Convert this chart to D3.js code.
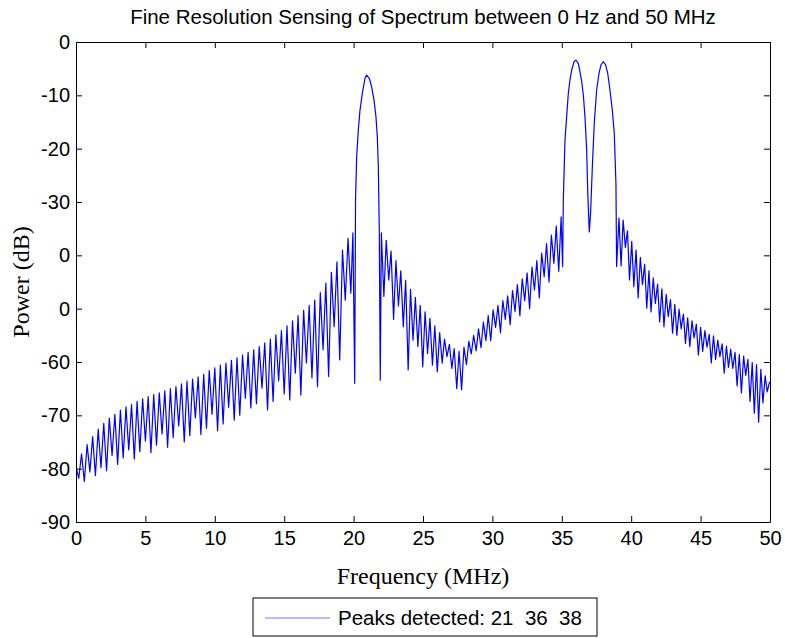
<html>
<head>
  <style>
    body{margin:0;background:#fff;}
    text{font-family:"Liberation Sans",Arial,Helvetica,sans-serif;}
    .serif{font-family:"Liberation Serif","Times New Roman",serif;font-size:24px;}
    .axis text{font-size:20px;fill:#000;}
    .axis path, .axis line{stroke:#000;stroke-width:1;}
  </style>
  <script src="https://d3js.org/d3.v7.min.js"></script>
</head>
<body>
  <svg></svg>
  <script type="text/javascript">
    // spectrum, [MHz, dB]
    var lowBand = [[0.0,-79.6],[0.2,-81.8],[0.4,-77.2],[0.6,-82.4],[0.8,-75.5],[1.0,-80.6],[1.2,-74.0],[1.4,-81.3],
      [1.6,-72.6],[1.8,-79.8],[2.0,-71.5],[2.2,-80.4],[2.4,-70.5],[2.6,-77.5],[2.8,-69.8],[3.0,-79.2],[3.2,-69.0],
      [3.4,-78.0],[3.6,-68.4],[3.8,-76.5],[4.0,-68.0],[4.2,-78.2],[4.4,-67.4],[4.6,-76.8],[4.8,-66.9],[5.0,-74.8],
      [5.2,-66.5],[5.4,-77.0],[5.6,-66.1],[5.8,-75.6],[6.0,-65.8],[6.2,-73.5],[6.4,-65.4],[6.6,-76.0],[6.8,-65.0],
      [7.0,-74.2],[7.2,-64.6],[7.4,-72.0],[7.6,-64.1],[7.8,-75.0],[8.0,-63.6],[8.2,-73.8],[8.4,-63.2],[8.6,-70.5],
      [8.8,-62.8],[9.0,-73.6],[9.2,-62.3],[9.4,-72.4],[9.6,-61.6],[9.8,-69.8],[10.0,-61.1],[10.2,-72.9],[10.4,-60.6],
      [10.6,-71.6],[10.8,-60.2],[11.0,-68.5],[11.2,-59.7],[11.4,-70.9],[11.6,-59.2],[11.8,-70.0],[12.0,-58.7],
      [12.2,-66.8],[12.4,-58.2],[12.6,-68.6],[12.8,-57.7],[13.0,-67.8],[13.2,-57.1],[13.4,-64.9],[13.6,-56.4],
      [13.8,-69.0],[14.0,-55.7],[14.2,-67.4],[14.4,-54.9],[14.6,-63.5],[14.8,-54.1],[15.0,-66.0],[15.2,-53.2],
      [15.4,-67.1],[15.6,-52.3],[15.8,-62.1],[16.0,-51.3],[16.2,-66.2],[16.4,-50.3],[16.6,-60.2],[16.8,-49.4],
      [17.0,-63.0],[17.2,-48.4],[17.4,-64.6],[17.6,-47.0],[17.8,-57.7],[18.0,-45.2],[18.2,-62.7],[18.4,-43.2],
      [18.6,-53.4],[18.8,-41.2],[19.0,-59.6],[19.2,-39.0],[19.4,-48.4],[19.6,-36.8],[19.8,-47.1],[19.95,-35.8],
      [20.08,-64.0]]
    var peak21 = [[20.14,-29.6],[20.22,-21.5],[20.34,-16.5],[20.46,-12.8],[20.63,-9.6],[20.82,-6.8],[20.94,-6.2],
      [21.13,-6.8],[21.30,-8.4],[21.47,-10.9],[21.61,-14.0],[21.71,-17.8],[21.78,-23.4],[21.85,-35.2],[21.92,-63.4]]
    var midBand = [[22.00,-35.8],[22.18,-47.7],[22.35,-37.2],[22.53,-44.6],[22.70,-39.2],[22.88,-52.0],[23.05,-41.0],
      [23.23,-49.5],[23.40,-42.9],[23.58,-53.4],[23.75,-44.7],[23.93,-61.5],[24.10,-46.4],[24.28,-55.9],[24.45,-47.9],
      [24.63,-57.1],[24.80,-49.4],[24.98,-60.9],[25.15,-50.6],[25.33,-58.4],[25.50,-51.8],[25.68,-60.6],[25.85,-53.2],
      [26.03,-61.8],[26.20,-54.5],[26.38,-60.2],[26.55,-55.7],[26.73,-59.0],[26.90,-56.7],[27.08,-61.2],[27.25,-57.5],
      [27.43,-65.0],[27.60,-58.0],[27.78,-65.2],[27.95,-57.2],[28.13,-60.5],[28.30,-56.1],[28.48,-58.5],[28.65,-55.0],
      [28.83,-57.9],[29.00,-53.8],[29.18,-57.3],[29.35,-52.5],[29.53,-56.0],[29.70,-51.3],[29.88,-56.0],[30.05,-50.2],
      [30.23,-53.5],[30.40,-49.4],[30.58,-54.5],[30.75,-48.5],[30.93,-52.0],[31.10,-47.6],[31.28,-53.0],[31.45,-46.6],
      [31.63,-50.5],[31.80,-45.5],[31.98,-51.3],[32.15,-44.4],[32.33,-48.5],[32.50,-43.3],[32.68,-50.0],[32.85,-42.2],
      [33.03,-46.5],[33.20,-41.0],[33.38,-48.0],[33.55,-39.6],[33.73,-44.0],[33.90,-37.8],[34.08,-45.0],[34.25,-36.2],
      [34.43,-41.5],[34.60,-34.5],[34.78,-43.0],[34.95,-32.8],[35.06,-42.1]]
    var peak36_38 = [[35.11,-29.6],[35.23,-18.4],[35.35,-14.0],[35.47,-9.6],[35.59,-7.1],[35.71,-5.3],[35.88,-3.7],
      [36.02,-3.4],[36.19,-4.0],[36.31,-5.6],[36.43,-7.4],[36.55,-9.9],[36.67,-14.0],[36.79,-20.2],[36.87,-28.3],
      [36.98,-35.6],[37.08,-31.8],[37.20,-23.4],[37.34,-15.2],[37.51,-9.0],[37.68,-5.9],[37.82,-4.3],[37.99,-3.7],
      [38.16,-4.3],[38.31,-5.9],[38.47,-9.0],[38.64,-12.8],[38.78,-17.1],[38.90,-26.5],[38.95,-42.1]]
    var highBand = [[39.12,-33.0],[39.27,-42.0],[39.42,-33.4],[39.58,-38.5],[39.73,-35.4],[39.88,-44.6],[40.04,-37.4],
      [40.19,-45.9],[40.35,-39.0],[40.50,-48.0],[40.66,-40.4],[40.81,-45.5],[40.97,-41.7],[41.12,-49.9],[41.28,-42.9],
      [41.43,-50.6],[41.59,-44.2],[41.74,-49.0],[41.90,-45.4],[42.05,-52.5],[42.21,-46.3],[42.36,-53.4],[42.52,-47.3],
      [42.67,-51.5],[42.83,-48.3],[42.98,-54.6],[43.14,-49.2],[43.29,-55.0],[43.45,-50.1],[43.60,-53.8],[43.76,-51.0],
      [43.91,-56.5],[44.07,-51.7],[44.22,-57.1],[44.38,-52.3],[44.53,-55.5],[44.69,-52.9],[44.84,-58.7],[45.00,-53.5],
      [45.15,-58.0],[45.31,-54.1],[45.46,-57.2],[45.62,-54.8],[45.77,-60.2],[45.93,-55.1],[46.08,-59.5],[46.24,-55.9],
      [46.39,-59.0],[46.55,-56.6],[46.70,-62.1],[46.86,-57.0],[47.01,-61.0],[47.17,-57.6],[47.32,-61.2],[47.48,-58.2],
      [47.63,-64.5],[47.79,-58.6],[47.94,-65.8],[48.10,-58.9],[48.25,-62.5],[48.41,-59.5],[48.56,-67.4],[48.72,-60.1],
      [48.87,-69.6],[49.03,-60.5],[49.18,-71.3],[49.34,-61.4],[49.49,-67.7],[49.65,-62.6],[49.80,-65.6],[49.96,-63.8],
      [50.00,-64.0]]

    var xTicks = [0, 5, 10, 15, 20, 25, 30, 35, 40, 45, 50]
    var yTicks = [-90, -80, -70, -60, -50, -40, -30, -20, -10, 0]
    var yTickLabels = ["-90", "-80", "-70", "-60", "0", "0", "-30", "-20", "-10", "0"]
    var peaksFound = [21, 36, 38]

    var spectrum = lowBand.concat(peak21, midBand, peak36_38, highBand)

    var w = 785;
    var h = 638;
    var leftX = 76, rightX = 770, topY = 42, bottomY = 522;

    var xScale = d3.scaleLinear().domain([0, 50]).range([leftX, rightX])
    var yScale = d3.scaleLinear().domain([-90, 0]).range([bottomY, topY])

    var svg = d3.select("svg")
      .attr("width", w)
      .attr("height", h);

    svg.append("defs").append("clipPath").attr("id", "plotArea")
      .append("rect")
      .attr("x", leftX).attr("y", topY)
      .attr("width", rightX - leftX).attr("height", bottomY - topY)

    // line
    var line = d3.line()
      .x(function(d) { return xScale(d[0]) })
      .y(function(d) { return yScale(d[1]) })

    svg.append("path")
      .datum(spectrum)
      .attr("clip-path", "url(#plotArea)")
      .attr("fill", "none")
      .attr("stroke", "#0000ff")
      .attr("stroke-width", 1.2)
      .attr("stroke-linejoin", "round")
      .attr("d", line)

    // axes, ticks pointing inward like matlab
    svg.append("g").attr("class", "axis")
      .attr("transform", "translate(0," + bottomY + ")")
      .call(d3.axisBottom(xScale).tickValues(xTicks).tickSize(-6).tickSizeOuter(0).tickPadding(9))
    svg.append("g").attr("class", "axis")
      .attr("transform", "translate(0," + topY + ")")
      .call(d3.axisTop(xScale).tickValues(xTicks).tickSize(-6).tickSizeOuter(0).tickFormat(""))
    svg.append("g").attr("class", "axis")
      .attr("transform", "translate(" + leftX + ",0)")
      .call(d3.axisLeft(yScale).tickValues(yTicks).tickSize(-6).tickSizeOuter(0).tickPadding(6)
        .tickFormat(function(d, i) { return yTickLabels[i] }))
    svg.append("g").attr("class", "axis")
      .attr("transform", "translate(" + rightX + ",0)")
      .call(d3.axisRight(yScale).tickValues(yTicks).tickSize(-6).tickSizeOuter(0).tickFormat(""))

    // title and labels
    svg.append("text")
      .attr("x", (leftX + rightX) / 2).attr("y", 24)
      .attr("text-anchor", "middle")
      .style("font-size", "20.5px")
      .text("Fine Resolution Sensing of Spectrum between 0 Hz and 50 MHz")

    svg.append("text").attr("class", "serif")
      .attr("x", (leftX + rightX) / 2).attr("y", 584)
      .attr("text-anchor", "middle")
      .text("Frequency (MHz)")

    svg.append("text").attr("class", "serif")
      .attr("transform", "translate(29," + (topY + bottomY) / 2 + ") rotate(-90)")
      .attr("text-anchor", "middle")
      .text("Power (dB)")

    // legend
    var legend = svg.append("g").attr("transform", "translate(253,598)")
    legend.append("rect")
      .attr("width", 344).attr("height", 38)
      .attr("fill", "#fff").attr("stroke", "#000")
    legend.append("line")
      .attr("x1", 12).attr("x2", 77).attr("y1", 20).attr("y2", 20)
      .attr("stroke", "#0000ff").attr("stroke-opacity", 0.55).attr("stroke-width", 1.2)
    legend.append("text")
      .attr("x", 85).attr("y", 27)
      .style("font-size", "20.5px")
      .style("white-space", "pre")
      .text("Peaks detected: " + peaksFound.join("  "))
  </script>
</body>
</html>
